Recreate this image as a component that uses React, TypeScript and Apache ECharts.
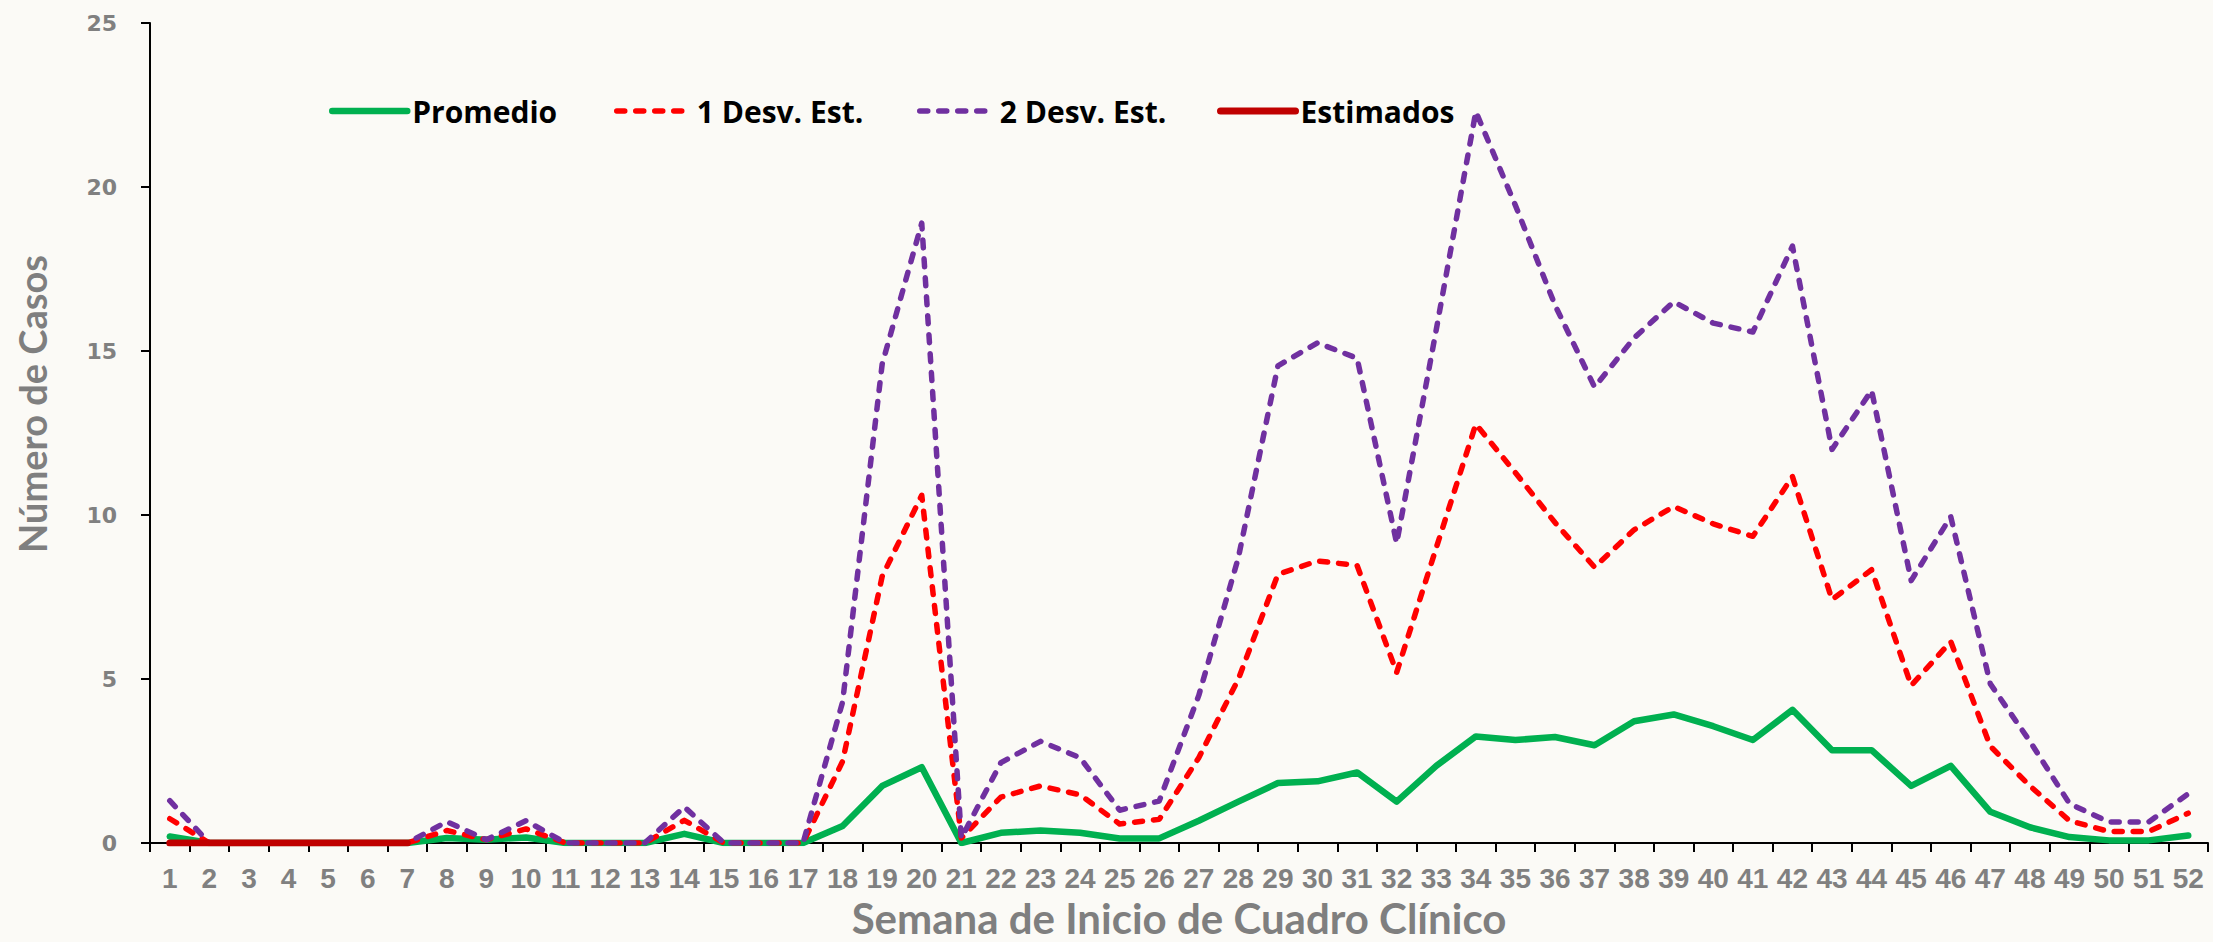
import React, { useEffect, useRef } from "react";
import * as echarts from "echarts";

const weeks = [
  "1", "2", "3", "4", "5", "6", "7", "8", "9", "10", "11", "12", "13",
  "14", "15", "16", "17", "18", "19", "20", "21", "22", "23", "24", "25", "26",
  "27", "28", "29", "30", "31", "32", "33", "34", "35", "36", "37", "38", "39",
  "40", "41", "42", "43", "44", "45", "46", "47", "48", "49", "50", "51", "52",
];

const promedio = [
  0.2, 0, 0, 0, 0, 0, 0, 0.15, 0.1, 0.17, 0, 0, 0,
  0.28, 0, 0, 0, 0.52, 1.74, 2.31, 0, 0.31, 0.38, 0.31, 0.14, 0.14,
  0.68, 1.26, 1.83, 1.88, 2.15, 1.26, 2.35, 3.25, 3.14, 3.23, 2.98, 3.71, 3.92,
  3.56, 3.14, 4.06, 2.83, 2.83, 1.74, 2.35, 0.95, 0.48, 0.18, 0.08, 0.08, 0.23,
];

const desv1 = [
  0.74, 0, 0, 0, 0, 0, 0, 0.38, 0.1, 0.43, 0, 0, 0,
  0.69, 0, 0, 0, 2.49, 8.13, 10.6, 0.15, 1.4, 1.74, 1.47, 0.58, 0.72,
  2.6, 5.0, 8.19, 8.6, 8.46, 5.2, 9.0, 12.77, 11.29, 9.77, 8.41, 9.55, 10.26,
  9.73, 9.35, 11.17, 7.42, 8.33, 4.8, 6.14, 2.95, 1.74, 0.68, 0.35, 0.35, 0.91,
];

const desv2 = [
  1.29, 0, 0, 0, 0, 0, 0, 0.65, 0.1, 0.68, 0, 0, 0,
  1.1, 0, 0, 0, 4.3, 14.6, 18.9, 0.15, 2.45, 3.1, 2.6, 1.0, 1.28,
  4.5, 8.7, 14.55, 15.25, 14.78, 9.14, 15.65, 22.3, 19.44, 16.4, 13.9, 15.4, 16.5,
  15.85, 15.58, 18.2, 12.0, 13.8, 8.0, 9.95, 4.85, 3.1, 1.2, 0.64, 0.64, 1.5,
];

const estimados = [
  0, 0, 0, 0, 0, 0, 0, null, null, null, null, null, null,
  null, null, null, null, null, null, null, null, null, null, null, null, null,
  null, null, null, null, null, null, null, null, null, null, null, null, null,
  null, null, null, null, null, null, null, null, null, null, null, null, null,
];

const yTicks = { min: 0, max: 25, interval: 5 };

const seriesNames = ["Promedio", "1 Desv. Est.", "2 Desv. Est.", "Estimados"];

export default function App() {
  const ref = useRef<HTMLDivElement>(null);

  useEffect(() => {
    if (!ref.current) return;
    const chart = echarts.init(ref.current, null, { renderer: "svg" });
    const legendText = {
      fontFamily: "'Open Sans', sans-serif",
      fontWeight: "bold" as const,
      fontSize: 30,
      color: "#000000",
    };
    const legendLefts = [329, 614, 917, 1217];
    chart.setOption({
      animation: false,
      backgroundColor: "#fbfaf6",
      grid: {
        left: 150,
        right: 5,
        top: 23,
        bottom: 99,
        containLabel: false,
        outerBoundsMode: "none",
      },
      legend: seriesNames.map((n, i) => ({
        data: [n],
        left: legendLefts[i],
        top: 96,
        padding: 0,
        itemWidth: 75,
        itemHeight: 20,
        itemGap: 0,
        textStyle: legendText,
        itemStyle: { opacity: 0, borderWidth: 0 },
        lineStyle: { width: "inherit" },
        selectedMode: false,
      })),
      xAxis: {
        type: "category",
        data: weeks,
        boundaryGap: true,
        name: "Semana de Inicio de Cuadro Clínico",
        nameLocation: "middle",
        nameGap: 55,
        nameTextStyle: {
          fontFamily: "Lato, sans-serif",
          fontWeight: "bold",
          fontSize: 42,
          lineHeight: 34,
          color: "#7f7f7f",
        },
        axisLine: { show: true, lineStyle: { color: "#000000", width: 2 } },
        axisTick: { show: true, length: 9, lineStyle: { color: "#000000", width: 2 } },
        axisLabel: {
          interval: 0,
          margin: 21,
          fontFamily: "'Liberation Sans', Arial, sans-serif",
          fontWeight: "bold",
          fontSize: 28,
          color: "#808080",
        },
        splitLine: { show: false },
      },
      yAxis: {
        type: "value",
        min: yTicks.min,
        max: yTicks.max,
        interval: yTicks.interval,
        name: "Número de Casos",
        nameLocation: "middle",
        nameGap: 99,
        nameTextStyle: {
          fontFamily: "Lato, sans-serif",
          fontWeight: "bold",
          fontSize: 38,
          color: "#7f7f7f",
          padding: [0, 0, 0, 58],
        },
        axisLine: { show: true, lineStyle: { color: "#000000", width: 2 } },
        axisTick: { show: true, length: 9, lineStyle: { color: "#000000", width: 2 } },
        axisLabel: {
          margin: 33,
          fontFamily: "'DejaVu Sans', sans-serif",
          fontWeight: "bold",
          fontSize: 22,
          color: "#808080",
        },
        splitLine: { show: false },
      },
      series: [
        {
          name: seriesNames[0],
          type: "line",
          data: promedio,
          symbol: "none",
          itemStyle: { color: "#00B050" },
          lineStyle: { color: "#00B050", width: 6.5, cap: "round", join: "round" },
          z: 2,
        },
        {
          name: seriesNames[1],
          type: "line",
          data: desv1,
          symbol: "none",
          itemStyle: { color: "#FF0000" },
          lineStyle: { color: "#FF0000", width: 5.5, type: [8, 11], cap: "round", join: "round" },
          z: 3,
        },
        {
          name: seriesNames[2],
          type: "line",
          data: desv2,
          symbol: "none",
          itemStyle: { color: "#7030A0" },
          lineStyle: { color: "#7030A0", width: 5.5, type: [8, 11], cap: "round", join: "round" },
          z: 4,
        },
        {
          name: seriesNames[3],
          type: "line",
          data: estimados,
          symbol: "none",
          connectNulls: false,
          itemStyle: { color: "#C00000" },
          lineStyle: { color: "#C00000", width: 7, cap: "round", join: "round" },
          z: 5,
        },
      ],
    });
    return () => chart.dispose();
  }, []);

  return (
    <div
      ref={ref}
      style={{ position: "fixed", left: 0, top: 0, width: 2213, height: 942, background: "#fbfaf6" }}
    />
  );
}
